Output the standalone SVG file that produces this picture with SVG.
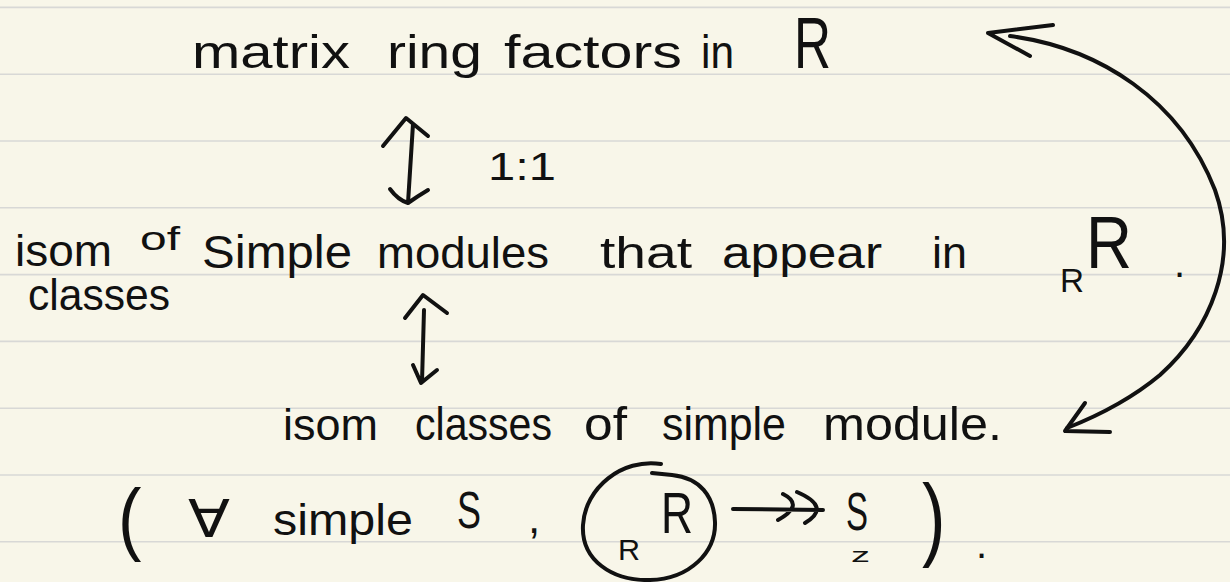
<svg xmlns="http://www.w3.org/2000/svg" width="1230" height="582" viewBox="0 0 1230 582">
<style>
.t{font-family:"Liberation Sans","DejaVu Sans",sans-serif;fill:#111;}
.m{font-family:"DejaVu Sans","Liberation Sans",sans-serif;fill:#111;}
.ink{fill:none;stroke:#111;stroke-width:4;stroke-linecap:round;stroke-linejoin:round;}
.rule{stroke:#d8d8d6;stroke-width:1.6;}
</style>
<rect width="1230" height="582" fill="#f8f6e9"/>
<g id="paper">
<line class="rule" x1="0" y1="7.4" x2="1230" y2="7.4"/>
<line class="rule" x1="0" y1="74.2" x2="1230" y2="74.2"/>
<line class="rule" x1="0" y1="141" x2="1230" y2="141"/>
<line class="rule" x1="0" y1="207.8" x2="1230" y2="207.8"/>
<line class="rule" x1="0" y1="274.6" x2="1230" y2="274.6"/>
<line class="rule" x1="0" y1="341.4" x2="1230" y2="341.4"/>
<line class="rule" x1="0" y1="408.2" x2="1230" y2="408.2"/>
<line class="rule" x1="0" y1="475" x2="1230" y2="475"/>
<line class="rule" x1="0" y1="541.8" x2="1230" y2="541.8"/>
</g>
<g id="node-matrix-ring-factors">
<text class="t" x="192" y="68" font-size="46" textLength="158" lengthAdjust="spacingAndGlyphs">matrix</text>
<text class="t" x="387" y="68" font-size="46" textLength="95" lengthAdjust="spacingAndGlyphs">ring</text>
<text class="t" x="504" y="68" font-size="46" textLength="178" lengthAdjust="spacingAndGlyphs">factors</text>
<text class="t" x="701" y="68" font-size="46" textLength="33" lengthAdjust="spacingAndGlyphs">in</text>
<text class="t" x="794" y="68" font-size="72" textLength="37" lengthAdjust="spacingAndGlyphs">R</text>
</g>
<g id="node-simple-in-RR">
<text class="t" x="15" y="266" font-size="44" textLength="97" lengthAdjust="spacingAndGlyphs">isom</text>
<text class="t" x="140" y="250" font-size="34" textLength="40" lengthAdjust="spacingAndGlyphs">of</text>
<text class="t" x="28" y="310" font-size="44" textLength="142" lengthAdjust="spacingAndGlyphs">classes</text>
<text class="t" x="202" y="268" font-size="46" textLength="150" lengthAdjust="spacingAndGlyphs">Simple</text>
<text class="t" x="377" y="268" font-size="44" textLength="172" lengthAdjust="spacingAndGlyphs">modules</text>
<text class="t" x="600" y="268" font-size="44" textLength="92" lengthAdjust="spacingAndGlyphs">that</text>
<text class="t" x="722" y="268" font-size="44" textLength="160" lengthAdjust="spacingAndGlyphs">appear</text>
<text class="t" x="932" y="268" font-size="44" textLength="35" lengthAdjust="spacingAndGlyphs">in</text>
<text class="t" x="1060" y="292" font-size="34" textLength="24" lengthAdjust="spacingAndGlyphs">R</text>
<text class="t" x="1086" y="268" font-size="74" textLength="46" lengthAdjust="spacingAndGlyphs">R</text>
<text class="t" x="1174" y="277" font-size="40">.</text>
</g>
<g id="node-isom-classes">
<text class="t" x="283" y="440" font-size="44" textLength="95" lengthAdjust="spacingAndGlyphs">isom</text>
<text class="t" x="415" y="440" font-size="46" textLength="137" lengthAdjust="spacingAndGlyphs">classes</text>
<text class="t" x="584" y="440" font-size="46" textLength="43" lengthAdjust="spacingAndGlyphs">of</text>
<text class="t" x="662" y="440" font-size="46" textLength="124" lengthAdjust="spacingAndGlyphs">simple</text>
<text class="t" x="823" y="440" font-size="46" textLength="179" lengthAdjust="spacingAndGlyphs">module.</text>
</g>
<g id="node-forall">
<text class="t" font-size="44" transform="translate(118,545) scale(1.6,1.8)">(</text>
<text class="m" x="188" y="537" font-size="52" textLength="42" lengthAdjust="spacingAndGlyphs">∀</text>
<text class="t" x="273" y="535" font-size="44" textLength="140" lengthAdjust="spacingAndGlyphs">simple</text>
<text class="t" x="457" y="528" font-size="52" textLength="24" lengthAdjust="spacingAndGlyphs">S</text>
<text class="t" x="528" y="533" font-size="44">,</text>
<text class="t" x="618" y="560" font-size="30" textLength="22" lengthAdjust="spacingAndGlyphs">R</text>
<text class="t" x="661" y="533" font-size="58" textLength="32" lengthAdjust="spacingAndGlyphs">R</text>
<path class="ink" d="M661,464 C622,458 585,488 583,525 C581,560 612,581 650,580 C690,579 716,552 715,522 C714,496 700,478 672,475 L652,473" stroke-width="3.5"/>
<text class="t" x="846" y="530" font-size="54" textLength="22" lengthAdjust="spacingAndGlyphs">S</text>
<text class="t" x="851" y="562" font-size="20" textLength="19" lengthAdjust="spacingAndGlyphs">z</text>
<text class="t" font-size="44" transform="translate(922,549) scale(1.6,2.1)">)</text>
<text class="t" x="976" y="558" font-size="40">.</text>
</g>
<g id="node-1to1">
<text class="t" x="488" y="180" font-size="38" textLength="68" lengthAdjust="spacingAndGlyphs">1:1</text>
</g>
<g id="connectors">
<path class="ink" d="M383,146 L406,118 L428,136 M413,124 L408,203 M390,189 Q398,200 408,203 Q418,196 428,190"/>
<path class="ink" d="M405,318 L423,295 L447,313 M424,310 L422,382 M413,365 L421,383 L437,370"/>
<path class="ink" d="M1010,36 C1100,48 1180,100 1215,190 C1240,260 1210,330 1160,375 C1130,400 1100,415 1067,428"/>
<path class="ink" d="M1053,25 L988,33 L1030,56"/>
<path class="ink" d="M1085,403 L1065,431 L1110,432"/>
<path class="ink" d="M733,509 L823,510 M783,494 Q805,505 778,520 M797,492 Q832,507 805,523"/>
</g>
</svg>
